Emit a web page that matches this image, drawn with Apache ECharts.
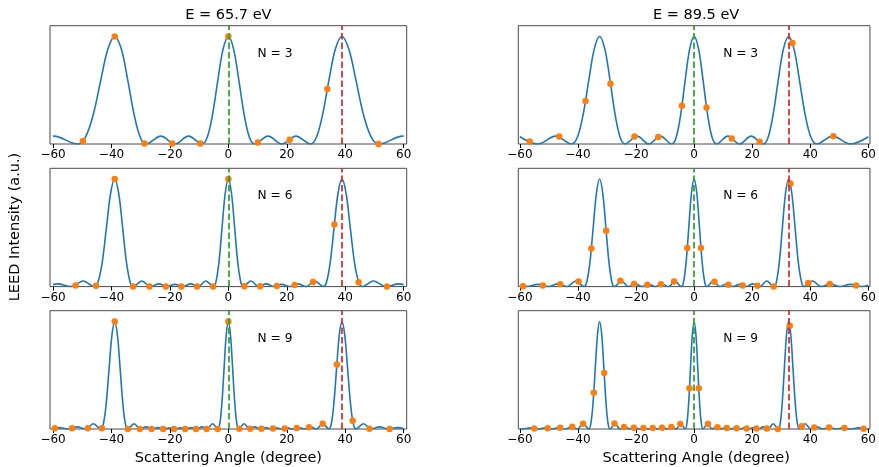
<!DOCTYPE html>
<html>
<head>
<meta charset="utf-8">
<script src="https://cdn.jsdelivr.net/npm/echarts@6/dist/echarts.min.js"></script>
<style>
  html, body { margin: 0; padding: 0; background: #fff; }
  #chart { width: 879px; height: 467px; }
</style>
</head>
<body>
<div id="chart"></div>
<script>
// Multi-atom LEED interference profiles: intensity vs scattering angle
// for two electron energies (columns) and three chain lengths (rows).

const FONT = 'DejaVu Sans';

const angleTicks = [-60, -40, -20, 0, 20, 40, 60];
const energyTitles = ['E = 65.7 eV', 'E = 89.5 eV'];
const chainLabels = ['N = 3', 'N = 6', 'N = 9'];
const braggAngles = [38.9, 32.55];       // first-order diffraction angle per energy
const angleLimits = [61.05, 60.55];      // half-width of the angle axis per energy
const intensityMax = 1.1;
const chainLabelAnchor = [10, 0.84];

// ---- E = 65.7 eV ----
const curveE657N3 = [
  [-60, 0.0731], [-59.71, 0.0732], [-51.72, 0], [-48.95, 0.0625], [-46.23, 0.2743], [-43.69, 0.592],
  [-41.23, 0.8825], [-38.89, 1], [-36.63, 0.8825], [-34.42, 0.592], [-32.26, 0.2743], [-30.16, 0.0625],
  [-28.11, 0], [-23.11, 0.0732], [-18.3, 0], [-13.62, 0.0732], [-9.03, 0], [-7.22, 0.0625],
  [-5.41, 0.2743], [-3.6, 0.592], [-1.8, 0.8825], [0, 1], [1.8, 0.8825], [3.6, 0.592],
  [5.41, 0.2743], [7.22, 0.0625], [9.03, 0], [13.62, 0.0732], [18.3, 0], [23.11, 0.0732],
  [28.11, 0], [30.16, 0.0625], [32.26, 0.2743], [34.42, 0.592], [36.63, 0.8825], [38.89, 1],
  [41.23, 0.8825], [43.69, 0.592], [46.23, 0.2743], [48.95, 0.0625], [51.72, 0], [59.71, 0.0732],
  [60, 0.0731]
];
const dotsE657N3 = [
  [-49.8, 0.027], [-38.9, 1], [-28.7, 0.005], [-19.2, 0.005], [-9.6, 0.004], [0, 1],
  [10.1, 0.014], [21.0, 0.040], [33.9, 0.512], [51.4, 0.001]
];

const curveE657N6 = [
  [-60, 0.0185], [-58.46, 0.0251], [-53.85, 0], [-49.69, 0.0525], [-45.87, 0], [-44.7, 0.035],
  [-43.2, 0.2208], [-41.74, 0.5453], [-40.31, 0.8657], [-38.9, 1], [-37.53, 0.8657], [-36.18, 0.5453],
  [-34.85, 0.2208], [-33.55, 0.035], [-32.57, 0], [-29.57, 0.0525], [-26.65, 0], [-23.81, 0.0251],
  [-21.03, 0], [-18.3, 0.0204], [-15.61, 0], [-12.96, 0.0251], [-10.34, 0], [-7.74, 0.0525],
  [-5.15, 0], [-4.32, 0.035], [-3.24, 0.2208], [-2.16, 0.5453], [-1.08, 0.8657], [0, 1],
  [1.08, 0.8657], [2.16, 0.5453], [3.24, 0.2208], [4.32, 0.035], [5.15, 0], [7.74, 0.0525],
  [10.34, 0], [12.96, 0.0251], [15.61, 0], [18.3, 0.0204], [21.03, 0], [23.81, 0.0251],
  [26.65, 0], [29.57, 0.0525], [32.57, 0], [33.55, 0.035], [34.85, 0.2208], [36.18, 0.5453],
  [37.53, 0.8657], [38.9, 1], [40.31, 0.8657], [41.74, 0.5453], [43.2, 0.2208], [44.7, 0.035],
  [45.87, 0], [49.69, 0.0525], [53.85, 0], [58.46, 0.0251], [60, 0.0185]
];
const dotsE657N6 = [
  [-52.3, 0.011], [-45.3, 0.007], [-38.9, 1], [-32.6, 0], [-27.0, 0.001], [-21.4, 0.001],
  [-16.1, 0.002], [-10.7, 0.002], [-5.2, 0], [0, 1], [5.5, 0.004], [10.9, 0.003],
  [16.6, 0.006], [22.7, 0.015], [29.0, 0.043], [36.3, 0.577], [44.6, 0.041], [54.3, 0.001]
];

const curveE657N9 = [
  [-60, 0.0044], [-57.97, 0.0126], [-54.73, 0], [-51.72, 0.02], [-48.9, 0], [-46.24, 0.0485],
  [-43.7, 0], [-42.71, 0.0559], [-41.74, 0.2576], [-40.78, 0.5758], [-39.83, 0.8762], [-38.9, 1],
  [-37.98, 0.8762], [-37.08, 0.5758], [-36.18, 0.2576], [-35.3, 0.0559], [-34.42, 0], [-32.26, 0.0485],
  [-30.16, 0], [-28.1, 0.02], [-26.08, 0], [-24.09, 0.0126], [-22.14, 0], [-20.21, 0.0103],
  [-18.3, 0], [-16.42, 0.0103], [-14.55, 0], [-12.7, 0.0126], [-10.86, 0], [-9.03, 0.02],
  [-7.22, 0], [-5.41, 0.0485], [-3.6, 0], [-2.88, 0.0559], [-2.16, 0.2576], [-1.44, 0.5758],
  [-0.72, 0.8762], [0, 1], [0.72, 0.8762], [1.44, 0.5758], [2.16, 0.2576], [2.88, 0.0559],
  [3.6, 0], [5.41, 0.0485], [7.22, 0], [9.03, 0.02], [10.86, 0], [12.7, 0.0126],
  [14.55, 0], [16.42, 0.0103], [18.3, 0], [20.21, 0.0103], [22.14, 0], [24.09, 0.0126],
  [26.08, 0], [28.1, 0.02], [30.16, 0], [32.26, 0.0485], [34.42, 0], [35.3, 0.0559],
  [36.18, 0.2576], [37.08, 0.5758], [37.98, 0.8762], [38.9, 1], [39.83, 0.8762], [40.78, 0.5758],
  [41.74, 0.2576], [42.71, 0.0559], [43.7, 0], [46.24, 0.0485], [48.9, 0], [51.72, 0.02],
  [54.73, 0], [57.97, 0.0126], [60, 0.0044]
];
const dotsE657N9 = [
  [-59.4, 0.008], [-53.5, 0.006], [-48.1, 0.007], [-43.3, 0.008], [-38.9, 1], [-34.4, 0],
  [-30.3, 0], [-26.3, 0], [-22.3, 0], [-18.6, 0.001], [-14.8, 0.001], [-11.1, 0.001],
  [-7.4, 0.001], [-3.65, 0], [0, 1], [3.76, 0.002], [7.5, 0.002], [11.3, 0.002],
  [15.3, 0.004], [19.3, 0.005], [23.4, 0.009], [27.6, 0.016], [32.3, 0.049], [37.15, 0.60],
  [42.55, 0.077], [48.3, 0.003], [55.2, 0.001]
];

// ---- E = 89.5 eV ----
const curveE895N3 = [
  [-60, 0.0678], [-53.81, 0], [-47.71, 0.0732], [-42.26, 0], [-40.21, 0.0625], [-38.22, 0.2743],
  [-36.28, 0.592], [-34.4, 0.8825], [-32.55, 1], [-30.74, 0.8825], [-28.96, 0.592], [-27.21, 0.2743],
  [-25.49, 0.0625], [-23.8, 0], [-19.65, 0.0732], [-15.61, 0], [-11.64, 0.0732], [-7.73, 0],
  [-6.18, 0.0625], [-4.63, 0.2743], [-3.08, 0.592], [-1.54, 0.8825], [0, 1], [1.54, 0.8825],
  [3.08, 0.592], [4.63, 0.2743], [6.18, 0.0625], [7.73, 0], [11.64, 0.0732], [15.61, 0],
  [19.65, 0.0732], [23.8, 0], [25.49, 0.0625], [27.21, 0.2743], [28.96, 0.592], [30.74, 0.8825],
  [32.55, 1], [34.4, 0.8825], [36.28, 0.592], [38.22, 0.2743], [40.21, 0.0625], [42.26, 0],
  [47.71, 0.0732], [53.81, 0], [60, 0.0678]
];
const dotsE895N3 = [
  [-56.65, 0.024], [-46.45, 0.070], [-37.4, 0.40], [-28.8, 0.56], [-20.55, 0.070], [-12.35, 0.064],
  [-4.2, 0.356], [4.27, 0.34], [12.95, 0.050], [22.55, 0.021], [33.85, 0.94], [47.95, 0.072]
];

const curveE895N6 = [
  [-60, 0.0126], [-57.71, 0], [-53.81, 0.0204], [-50.23, 0], [-46.9, 0.0251], [-43.77, 0],
  [-40.79, 0.0525], [-37.94, 0], [-37.05, 0.035], [-35.9, 0.2208], [-34.77, 0.5453], [-33.65, 0.8657],
  [-32.55, 1], [-31.46, 0.8657], [-30.38, 0.5453], [-29.31, 0.2208], [-28.26, 0.035], [-27.46, 0],
  [-25.01, 0.0525], [-22.6, 0], [-20.24, 0.0251], [-17.9, 0], [-15.61, 0.0204], [-13.33, 0],
  [-11.08, 0.0251], [-8.84, 0], [-6.62, 0.0525], [-4.41, 0], [-3.7, 0.035], [-2.78, 0.2208],
  [-1.85, 0.5453], [-0.93, 0.8657], [0, 1], [0.93, 0.8657], [1.85, 0.5453], [2.78, 0.2208],
  [3.7, 0.035], [4.41, 0], [6.62, 0.0525], [8.84, 0], [11.08, 0.0251], [13.33, 0],
  [15.61, 0.0204], [17.9, 0], [20.24, 0.0251], [22.6, 0], [25.01, 0.0525], [27.46, 0],
  [28.26, 0.035], [29.31, 0.2208], [30.38, 0.5453], [31.46, 0.8657], [32.55, 1], [33.65, 0.8657],
  [34.77, 0.5453], [35.9, 0.2208], [37.05, 0.035], [37.94, 0], [40.79, 0.0525], [43.77, 0],
  [46.9, 0.0251], [50.23, 0], [53.81, 0.0204], [57.71, 0], [60, 0.0126]
];
const dotsE895N6 = [
  [-58.9, 0.004], [-52.1, 0.011], [-46.1, 0.023], [-39.8, 0.048], [-35.4, 0.354], [-30.3, 0.519],
  [-25.4, 0.054], [-20.7, 0.024], [-16.1, 0.018], [-11.45, 0.023], [-6.9, 0.047], [-2.35, 0.359],
  [2.35, 0.359], [7.0, 0.045], [11.8, 0.018], [16.7, 0.011], [21.8, 0.008], [27.4, 0],
  [33.15, 0.958], [39.3, 0.034], [46.7, 0.025], [55.8, 0.010]
];

const curveE895N9 = [
  [-60, 0.001], [-59.42, 0], [-56.51, 0.0103], [-53.81, 0], [-51.27, 0.0103], [-48.87, 0],
  [-46.58, 0.0126], [-44.38, 0], [-42.26, 0.02], [-40.21, 0], [-38.22, 0.0485], [-36.28, 0],
  [-35.53, 0.0559], [-34.77, 0.2576], [-34.02, 0.5758], [-33.28, 0.8762], [-32.55, 1], [-31.82, 0.8762],
  [-31.1, 0.5758], [-30.38, 0.2576], [-29.67, 0.0559], [-28.96, 0], [-27.21, 0.0485], [-25.49, 0],
  [-23.8, 0.02], [-22.12, 0], [-20.47, 0.0126], [-18.83, 0], [-17.21, 0.0103], [-15.61, 0],
  [-14.01, 0.0103], [-12.43, 0], [-10.86, 0.0126], [-9.29, 0], [-7.73, 0.02], [-6.18, 0],
  [-4.63, 0.0485], [-3.08, 0], [-2.47, 0.0559], [-1.85, 0.2576], [-1.23, 0.5758], [-0.62, 0.8762],
  [0, 1], [0.62, 0.8762], [1.23, 0.5758], [1.85, 0.2576], [2.47, 0.0559], [3.08, 0],
  [4.63, 0.0485], [6.18, 0], [7.73, 0.02], [9.29, 0], [10.86, 0.0126], [12.43, 0],
  [14.01, 0.0103], [15.61, 0], [17.21, 0.0103], [18.83, 0], [20.47, 0.0126], [22.12, 0],
  [23.8, 0.02], [25.49, 0], [27.21, 0.0485], [28.96, 0], [29.67, 0.0559], [30.38, 0.2576],
  [31.1, 0.5758], [31.82, 0.8762], [32.55, 1], [33.28, 0.8762], [34.02, 0.5758], [34.77, 0.2576],
  [35.53, 0.0559], [36.28, 0], [38.22, 0.0485], [40.21, 0], [42.26, 0.02], [44.38, 0],
  [46.58, 0.0126], [48.87, 0], [51.27, 0.0103], [53.81, 0], [56.51, 0.0103], [59.42, 0],
  [60, 0.001]
];
const dotsE895N9 = [
  [-55.05, 0.005], [-50.45, 0.008], [-46.15, 0.012], [-41.95, 0.020], [-38.25, 0.048], [-34.55, 0.338],
  [-30.95, 0.52], [-27.45, 0.051], [-24.15, 0.019], [-20.75, 0.012], [-17.45, 0.010], [-14.25, 0.010],
  [-11.05, 0.012], [-7.85, 0.019], [-4.75, 0.046], [-1.6, 0.378], [1.6, 0.378], [4.75, 0.046],
  [8.05, 0.017], [11.25, 0.010], [14.65, 0.007], [18.05, 0.005], [21.45, 0.005], [25.05, 0.004],
  [28.85, 0.001], [32.95, 0.96], [37.05, 0.026], [41.35, 0.014], [46.45, 0.013], [51.75, 0.009],
  [58.35, 0.003]
];

// Panel layout: row = chain length, col = energy
const panels = [
  { row: 0, col: 0, curve: curveE657N3, dots: dotsE657N3 },
  { row: 0, col: 1, curve: curveE895N3, dots: dotsE895N3 },
  { row: 1, col: 0, curve: curveE657N6, dots: dotsE657N6 },
  { row: 1, col: 1, curve: curveE895N6, dots: dotsE895N6 },
  { row: 2, col: 0, curve: curveE657N9, dots: dotsE657N9 },
  { row: 2, col: 1, curve: curveE895N9, dots: dotsE895N9 }
];

const colLeft = [50, 518.3];
const colWidth = [356.7, 355.7];
const rowTop = [25.7, 168.3, 310.7];
const rowHeight = 118.3;

const BLUE = '#1f77b4', ORANGE = '#ff7f0e', GREEN = '#2ca02c', RED = '#d62728';

const chart = echarts.init(document.getElementById('chart'), null, { renderer: 'canvas' });

const grids = panels.map(p => ({
  left: colLeft[p.col], top: rowTop[p.row], width: colWidth[p.col], height: rowHeight,
  show: true, borderColor: '#4a4a4a', borderWidth: 1, backgroundColor: 'transparent', containLabel: false
}));

const xAxes = panels.map((p, i) => ({
  gridIndex: i, type: 'value',
  min: -angleLimits[p.col], max: angleLimits[p.col],
  axisLine: { show: false },
  splitLine: { show: false },
  axisTick: { show: true, customValues: angleTicks, length: 4, lineStyle: { color: '#000', width: 1 } },
  axisLabel: {
    customValues: angleTicks, margin: 5,
    fontFamily: FONT, fontSize: 12, color: '#000',
    formatter: v => String(v).replace('-', '\u2212')
  }
}));

const yAxes = panels.map((p, i) => ({
  gridIndex: i, type: 'value', min: 0, max: intensityMax, show: false
}));

const series = [];
panels.forEach((p, i) => {
  series.push({
    type: 'line', xAxisIndex: i, yAxisIndex: i, data: p.curve,
    smooth: 0.35, showSymbol: false, z: 2,
    lineStyle: { color: BLUE, width: 1.6 }
  });
  series.push({
    type: 'scatter', xAxisIndex: i, yAxisIndex: i, data: p.dots,
    symbol: 'circle', symbolSize: 6.5, z: 3,
    itemStyle: { color: ORANGE, opacity: 1 }
  });
  series.push({
    type: 'line', xAxisIndex: i, yAxisIndex: i, data: [], z: 4,
    markLine: {
      silent: true, symbol: ['none', 'none'], label: { show: false },
      data: [
        { xAxis: 0, lineStyle: { color: GREEN, type: [6.5, 3], width: 1.7 } },
        { xAxis: braggAngles[p.col], lineStyle: { color: RED, type: [6.5, 3], width: 1.7 } }
      ]
    }
  });
});

chart.setOption({
  animation: false,
  backgroundColor: '#fff',
  grid: grids, xAxis: xAxes, yAxis: yAxes, series: series
});

// Text annotations
const textStyle = (text, size, align) => ({
  text, fill: '#000', font: `${size}px "${FONT}"`,
  textAlign: align || 'center', textVerticalAlign: 'middle'
});

const graphics = [];
[0, 1].forEach(col => {
  const cx = colLeft[col] + colWidth[col] / 2;
  graphics.push({ type: 'text', x: cx, y: 15, style: textStyle(energyTitles[col], 14.5) });
  graphics.push({ type: 'text', x: cx, y: 458, style: textStyle('Scattering Angle (degree)', 14.5) });
});
panels.forEach((p, i) => {
  const pt = chart.convertToPixel({ gridIndex: i }, chainLabelAnchor);
  graphics.push({ type: 'text', x: pt[0], y: pt[1], style: textStyle(chainLabels[p.row], 12.2, 'left') });
});
graphics.push({
  type: 'text', x: 15, y: 227, rotation: Math.PI / 2,
  style: textStyle('LEED Intensity (a.u.)', 14.5)
});

chart.setOption({ graphic: graphics });
</script>
</body>
</html>
